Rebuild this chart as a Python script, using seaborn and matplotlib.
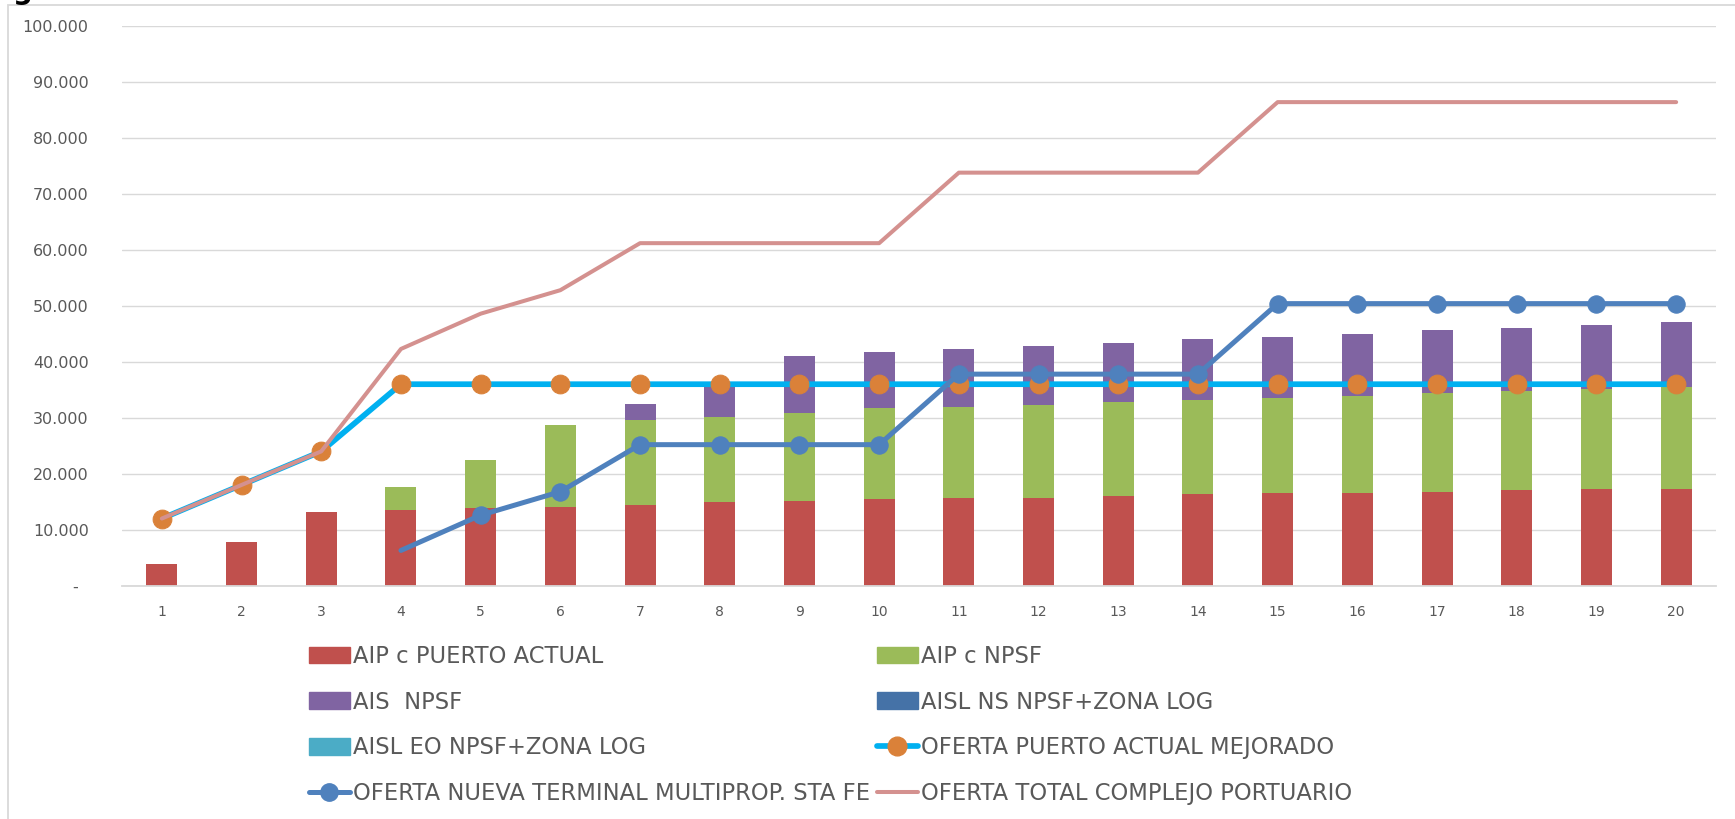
import numpy as np
import pandas as pd
import seaborn as sns
import matplotlib.pyplot as plt
from matplotlib.patches import Patch, Rectangle
from matplotlib.lines import Line2D

# Data
periods = [str(i) for i in range(1, 21)]
aip_puerto_actual = [3800, 7800, 13100, 13600, 13900, 14100, 14400, 15000, 15200, 15500,
                     15700, 15700, 16000, 16300, 16600, 16600, 16800, 17100, 17300, 17300]
aip_c_npsf = [0, 0, 0, 4000, 8500, 14700, 15200, 15100, 15700, 16200,
              16300, 16600, 16800, 16800, 17000, 17300, 17600, 17600, 17900, 18200]
ais_npsf = [0, 0, 0, 0, 0, 0, 2900, 6200, 10100, 10100,
            10300, 10600, 10600, 10900, 10900, 11100, 11200, 11400, 11400, 11700]
oferta_puerto_mejorado = [12000, 18000, 24000, 36000, 36000, 36000, 36000, 36000, 36000, 36000,
                          36000, 36000, 36000, 36000, 36000, 36000, 36000, 36000, 36000, 36000]
oferta_nueva_terminal = [np.nan, np.nan, np.nan, 6300, 12600, 16800, 25200, 25200, 25200, 25200,
                         37800, 37800, 37800, 37800, 50400, 50400, 50400, 50400, 50400, 50400]
oferta_total = [12000, 18000, 24000, 42300, 48600, 52800, 61200, 61200, 61200, 61200,
                73800, 73800, 73800, 73800, 86400, 86400, 86400, 86400, 86400, 86400]

y_ticks = [0, 10000, 20000, 30000, 40000, 50000, 60000, 70000, 80000, 90000, 100000]
y_tick_labels = ["-", "10.000", "20.000", "30.000", "40.000", "50.000",
                 "60.000", "70.000", "80.000", "90.000", "100.000"]

labels = ["AIP c PUERTO ACTUAL", "AIP c NPSF", "AIS  NPSF", "AISL NS NPSF+ZONA LOG",
          "AISL EO NPSF+ZONA LOG", "OFERTA PUERTO ACTUAL MEJORADO",
          "OFERTA NUEVA TERMINAL MULTIPROP. STA FE", "OFERTA TOTAL COMPLEJO PORTUARIO"]

RED, GREEN, PURPLE = "#C0504D", "#9BBB59", "#8064A2"
NAVY, TEAL = "#4572A7", "#4BACC6"
CYAN, ORANGE, BLUE, PINK = "#00B0F0", "#DA8139", "#4F81BD", "#D4918F"
GRID, TXT = "#D9D9D9", "#595959"

df = pd.DataFrame({
    "periodo": periods,
    "red": aip_puerto_actual,
    "green": aip_c_npsf,
    "purple": ais_npsf,
})
df["top_green"] = df["red"] + df["green"]
df["top_purple"] = df["top_green"] + df["purple"]

sns.set_style("white")
plt.rcParams["font.family"] = ["DejaVu Sans"]

fig = plt.figure(figsize=(17.35, 8.19), dpi=100)
ax = fig.add_axes([122 / 1735, 1 - 585.7 / 819, (1716 - 122) / 1735, (585.7 - 26) / 819])

# stacked bars: draw the cumulative totals from top to bottom
for col, c in [("top_purple", PURPLE), ("top_green", GREEN), ("red", RED)]:
    sns.barplot(data=df, x="periodo", y=col, color=c, width=0.39, linewidth=0,
                saturation=1, ax=ax, zorder=2)

xpos = np.arange(len(periods))
sns.lineplot(x=xpos, y=oferta_puerto_mejorado, color=CYAN, linewidth=4.1, marker="o",
             markersize=13.5, markerfacecolor=ORANGE, markeredgecolor=ORANGE,
             estimator=None, errorbar=None, sort=False, ax=ax, zorder=4)
sns.lineplot(x=xpos, y=oferta_nueva_terminal, color=BLUE, linewidth=3.6, marker="o",
             markersize=12.5, markerfacecolor=BLUE, markeredgecolor=BLUE,
             markevery=list(range(1, 17)), solid_capstyle="round",
             estimator=None, errorbar=None, sort=False, ax=ax, zorder=5)
sns.lineplot(x=xpos, y=oferta_total, color=PINK, linewidth=2.9, solid_capstyle="round",
             estimator=None, errorbar=None, sort=False, ax=ax, zorder=6)

ax.set_xlim(-0.5, len(periods) - 0.5)
ax.set_ylim(0, 100000)
ax.set_xticks(xpos)
ax.set_xticklabels(periods)
ax.set_yticks(y_ticks)
ax.set_yticklabels([l if l != "-" else "-\u2007" for l in y_tick_labels])
ax.set_xlabel("")
ax.set_ylabel("")
ax.tick_params(axis="x", length=0, pad=14, labelsize=10, labelcolor=TXT)
ax.tick_params(axis="y", length=0, pad=24, labelsize=11.5, labelcolor=TXT)
ax.grid(axis="y", color=GRID, linewidth=1.0, zorder=0)
ax.set_axisbelow(True)
for s in ["left", "right", "top"]:
    ax.spines[s].set_visible(False)
ax.spines["bottom"].set_color(GRID)
ax.spines["bottom"].set_linewidth(1.3)
legend_obj = ax.get_legend()
if legend_obj is not None:
    legend_obj.remove()

# legend, laid out as two separate columns
h = [
    Patch(color=RED), Patch(color=GREEN), Patch(color=PURPLE), Patch(color=NAVY),
    Patch(color=TEAL),
    Line2D([], [], color=CYAN, lw=4.1, marker="o", ms=13.5, mfc=ORANGE, mec=ORANGE),
    Line2D([], [], color=BLUE, lw=3.6, marker="o", ms=12.5, mfc=BLUE, mec=BLUE,
           solid_capstyle="round"),
    Line2D([], [], color=PINK, lw=2.9),
]
common = dict(frameon=False, fontsize=16.3, labelcolor=TXT, handlelength=1.81,
              handleheight=0.75, handletextpad=0.13, labelspacing=1.0,
              borderpad=0, borderaxespad=0, loc="upper left")
leg1 = fig.legend([h[0], h[2], h[4], h[6]], [labels[0], labels[2], labels[4], labels[6]],
                  bbox_to_anchor=(309 / 1735, 1 - 645 / 819), **common)
leg2 = fig.legend([h[1], h[3], h[5], h[7]], [labels[1], labels[3], labels[5], labels[7]],
                  bbox_to_anchor=(877 / 1735, 1 - 645 / 819), **common)

# chart-area frame and the clipped title glyph above it
fig.add_artist(Rectangle((8.3 / 1735, -0.05), 1.1, 1 - 5 / 819 + 0.05,
                         transform=fig.transFigure, fill=False, edgecolor=GRID, linewidth=1.3))
fig.text(13 / 1735, 1 + 1 / 819, "g", fontsize=20, fontweight="bold",
         color="black", va="baseline", ha="left")

fig.savefig("out.png", dpi=100)
